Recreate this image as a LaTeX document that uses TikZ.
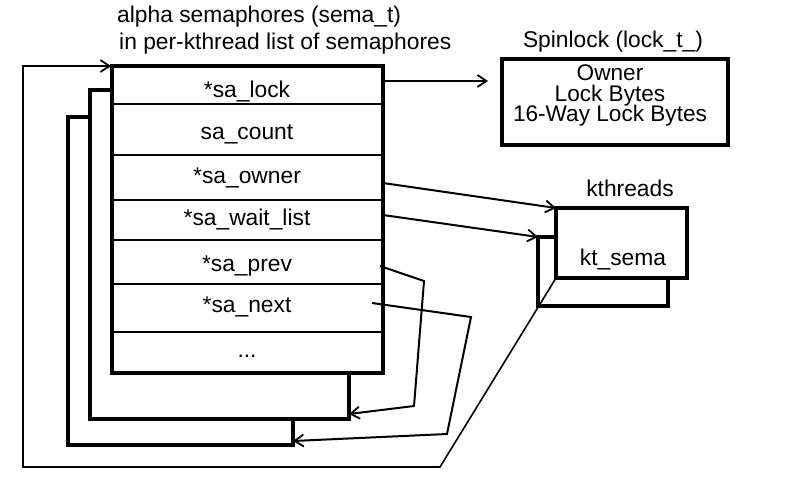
\documentclass[tikz,border=0pt]{standalone}
\usepackage{fontspec}
\setmainfont{Liberation Sans}
\usetikzlibrary{arrows.meta}
\begin{document}
\begin{tikzpicture}[x=1pt,y=-1pt,
  box/.style={draw, line width=3.3pt, fill=white, inner sep=0pt, outer sep=0pt, anchor=north west},
  loopline/.style={line width=1.6pt},
  tip/.style={-{Straight Barb[length=9pt,width=12pt,line width=1.8pt]}},
  ptr/.style={line width=2pt, tip},
  divider/.style={line width=2.2pt},
  lbl/.style={font=\fontsize{22.8}{27}\selectfont, inner sep=0pt, anchor=base},
  small/.style={font=\fontsize{22.6}{25}\selectfont, inner sep=0pt, anchor=base}]
\fill[white] (0,0) rectangle (799,483);
\useasboundingbox (0,0) rectangle (799,483);

% titles
\node[lbl, anchor=base west] (t1) at (117,22) {alpha semaphores (sema\_t)};
\node[lbl, anchor=base west] (t2) at (119,49) {in per-kthread list of semaphores};
\node[lbl] (spint) at (613,47) {Spinlock (lock\_t\_)};
\node[lbl] (ktt) at (630,196) {kthreads};

% stacked semaphore boxes
\node[box, minimum width=225pt, minimum height=328pt] (b3) at (68,117) {};
\node[box, minimum width=259pt, minimum height=329pt] (b2) at (90,90) {};
\node[box, minimum width=271pt, minimum height=307pt] (main) at (112,66) {};
\foreach \yy in {104,155,200,240,284,332}
  \draw[divider] (112,\yy) -- (383,\yy);

\node[lbl] (lock)  at (247,97)  {*sa\_lock};
\node[lbl] (count) at (247,139) {sa\_count};
\node[lbl] (owner) at (247,183) {*sa\_owner};
\node[lbl] (wait)  at (247,225) {*sa\_wait\_list};
\node[lbl] (prev)  at (247,271) {*sa\_prev};
\node[lbl] (next)  at (247,312) {*sa\_next};
\node[lbl] (dots)  at (247,357) {...};

% spinlock
\node[box, minimum width=226pt, minimum height=86pt] (spin) at (502,59) {};
\node[small] (own) at (610,80)  {Owner};
\node[small] (lb)  at (610,101) {Lock Bytes};
\node[small] (wlb) at (610,121) {16-Way Lock Bytes};

% kthreads
\node[box, minimum width=130pt, minimum height=69pt] (ktb) at (538,237) {};
\node[box, minimum width=131pt, minimum height=70pt] (kt) at (556,208) {};
\node[lbl] (ktsema) at (623,265) {kt\_sema};

% pointers
\draw[ptr] (main.east |- 0,81) -- ([xshift=-14pt]spin.west |- 0,81);
\draw[ptr] (main.east |- 0,183) -- (kt.north west);
\draw[ptr] (main.east |- 0,215) -- (ktb.north west);
\draw[ptr] (380,266) -- (424,281) -- (414,406) -- (b2.east |- 0,414);
\draw[ptr] (372,303) -- (471,317) -- (447,434) -- (b3.east |- 0,441);

% kt_sema list loop
\draw[loopline, tip, shorten >=1pt] (kt.south west) -- (440,467) -- (23,467) -- (23,66) -- (main.north west);
\end{tikzpicture}
\end{document}
